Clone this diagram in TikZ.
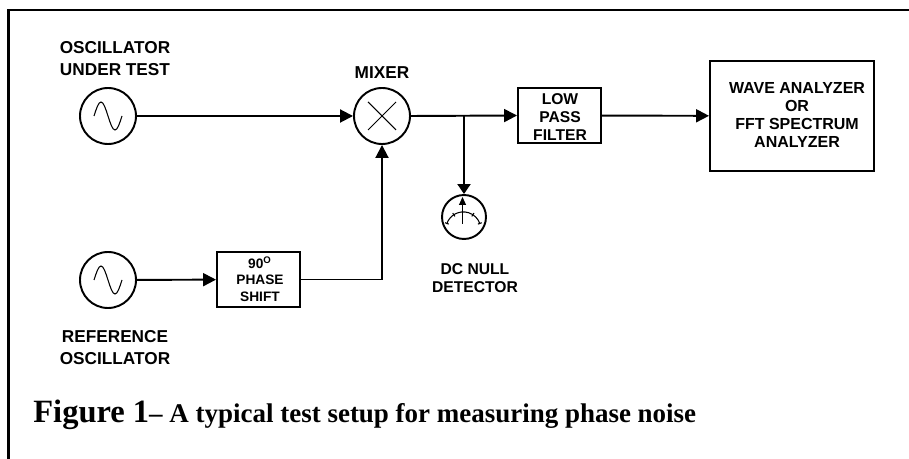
\documentclass[tikz,border=0pt]{standalone}
\usepackage{fontspec}
\setmainfont{Liberation Serif}
\setsansfont{Liberation Sans}
\usepackage{tikz}
\usetikzlibrary{arrows.meta}

\tikzset{
  lbl/.style={align=center,font=\sffamily\bfseries\fontsize{9.8}{12.5}\selectfont,inner sep=0pt},
  boxlbl/.style={align=center,font=\sffamily\bfseries\fontsize{8.9}{10.4}\selectfont,inner sep=0pt},
  circ/.style={draw,circle,line width=1.1pt,minimum size=1.12cm,inner sep=0pt},
  blockbox/.style={draw,line width=1.1pt,inner sep=0pt},
  wire/.style={line width=1.1pt,-{Triangle[length=2.6mm,width=2.6mm]}},
  thinline/.style={line width=0.6pt}
}

\newcommand{\sinewave}[1]{
\draw[thinline,shift={(#1)}] (-0.28,0) sin (-0.14,0.28) cos (0,0) sin (0.14,-0.28) cos (0.28,0);
}

\begin{document}
\begin{tikzpicture}
\useasboundingbox (0,0) rectangle (18.18,9.18);

% frame
\draw[line width=1.15pt] (0.17,0) -- (0.17,8.98) -- (18.18,8.98);

% sources and mixer
\node[circ] (osctest) at (2.16,6.86) {};
\node[circ] (oscref) at (2.16,3.58) {};
\node[circ] (mixer) at (7.64,6.86) {};
\sinewave{osctest}
\sinewave{oscref}
\draw[thinline,shift={(mixer)}] (-0.28,-0.28) -- (0.28,0.28);
\draw[thinline,shift={(mixer)}] (-0.28,0.28) -- (0.28,-0.28);

% blocks
\node[blockbox,minimum width=1.66cm,minimum height=1.1cm] (phase) at (5.17,3.59) {};
\node[boxlbl,font=\sffamily\bfseries\fontsize{7.8}{9.4}\selectfont] (phasetxt) at (5.2,3.6) {90\textsuperscript{O}\\PHASE\\SHIFT};
\node[blockbox,minimum width=1.66cm,minimum height=1.1cm] (lpf) at (11.19,6.87) {};
\node[boxlbl] (lpftxt) at (11.2,6.84) {LOW\\PASS\\FILTER};
\node[blockbox,minimum width=3.28cm,minimum height=2.2cm] (analyzer) at (15.84,6.86) {};
\node[boxlbl,font=\sffamily\bfseries\fontsize{9.1}{10.4}\selectfont] (analyzertxt) at (15.94,6.88) {WAVE ANALYZER\\OR\\FFT SPECTRUM\\ANALYZER};

% meter
\node[circ,minimum size=0.88cm] (meter) at (9.28,4.84) {};
\draw[thinline] (8.934,4.70) arc (162:18:0.35);
\foreach \a in {20,57,123,160}
  \draw[thinline] (9.267,4.592) ++(\a:0.31) -- ++(\a:0.08);
\draw[thinline,-{Triangle[length=1.6mm,width=1.4mm]}] (9.25,4.70) -- (9.25,5.24);

% labels
\node[lbl] (osctestlbl) at (2.3,8.0) {OSCILLATOR\\UNDER TEST};
\node[lbl] (oscreflbl) at (2.3,2.23) {REFERENCE\\OSCILLATOR};
\node[lbl] (mixerlbl) at (7.64,7.72) {MIXER};
\node[boxlbl] (meterlbl) at (9.5,3.62) {DC NULL\\DETECTOR};
\node[inner sep=0pt,anchor=base west,font=\rmfamily\bfseries] (caption) at (0.66,0.72)
  {{\fontsize{18.5}{20}\selectfont Figure 1}{\fontsize{15.35}{18}\selectfont-- A typical test setup for measuring phase noise}};

% connections
\draw[wire] (osctest) -- (mixer);
\draw[wire] (oscref) -- (phase);
\draw[wire] (phase.east) -| (mixer.south);
\coordinate (tap) at (9.28,6.87);
\draw[wire] (mixer.east) -- (lpf.west);
\draw[wire] (lpf) -- (analyzer);
\draw[wire,-{Triangle[length=2mm,width=2.6mm]}] (tap) -- (meter.north);
\end{tikzpicture}
\end{document}
